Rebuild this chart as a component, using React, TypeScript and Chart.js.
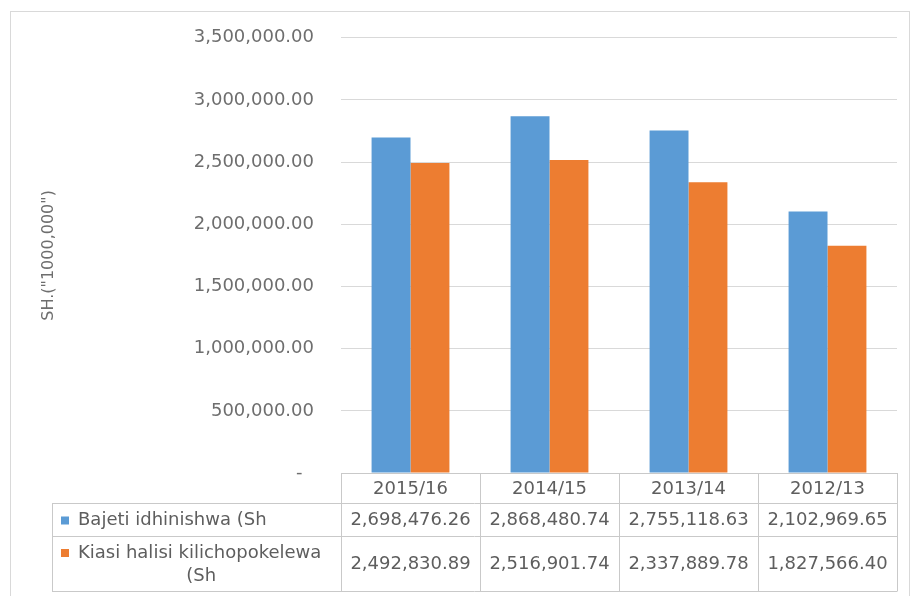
import React, { useEffect, useRef } from 'react';
import { Chart, registerables } from 'chart.js';

Chart.register(...registerables);

const categories = ['2015/16', '2014/15', '2013/14', '2012/13'];
const seriesNames = ['Bajeti idhinishwa (Sh', 'Kiasi halisi kilichopokelewa (Sh'];
const bajetiValues = [2698476.26, 2868480.74, 2755118.63, 2102969.65];
const kiasiValues = [2492830.89, 2516901.74, 2337889.78, 1827566.4];
const seriesColors = ['#5B9BD5', '#ED7D31'];
const yMin = 0;
const yMax = 3500000;
const yStep = 500000;
const yTitle = 'SH.("1000,000")';

const FONT = '"DejaVu Sans", sans-serif';
const TEXT = '#5E5E5E';
const AXIS_TEXT = '#6E6E6E';
const LINE = '#C9C9C9';

const fmt = (v: number) =>
  v.toLocaleString('en-US', { minimumFractionDigits: 2, maximumFractionDigits: 2 });

const tablePlugin = {
  id: 'dataTable',
  afterDraw(chart: any) {
    const { ctx, chartArea } = chart;
    const xs = chart.scales.x;
    const n = categories.length;
    const left = chartArea.left;
    const right = chartArea.right;
    const colW = (right - left) / n;
    const tableLeft = 52;
    const headerTop = chartArea.bottom;
    const headerBottom = headerTop + 30;
    const row1Bottom = headerBottom + 33;
    const row2Bottom = row1Bottom + 55;
    const allSeries = [bajetiValues, kiasiValues];

    ctx.save();
    // outer frame
    ctx.strokeStyle = '#D9D9D9';
    ctx.lineWidth = 1;
    ctx.strokeRect(10.5, 11.5, 899, 600);

    ctx.strokeStyle = LINE;
    ctx.beginPath();
    ctx.moveTo(left, headerTop + 0.5);
    ctx.lineTo(right, headerTop + 0.5);
    ctx.moveTo(tableLeft, headerBottom + 0.5);
    ctx.lineTo(right, headerBottom + 0.5);
    ctx.moveTo(tableLeft, row1Bottom + 0.5);
    ctx.lineTo(right, row1Bottom + 0.5);
    ctx.moveTo(tableLeft, row2Bottom + 0.5);
    ctx.lineTo(right, row2Bottom + 0.5);
    for (let i = 0; i <= n; i++) {
      const x = Math.round(left + i * colW) + 0.5;
      ctx.moveTo(x, headerTop);
      ctx.lineTo(x, row2Bottom + 0.5);
    }
    ctx.moveTo(tableLeft + 0.5, headerBottom);
    ctx.lineTo(tableLeft + 0.5, row2Bottom + 0.5);
    ctx.stroke();

    ctx.fillStyle = TEXT;
    ctx.font = '18px ' + FONT;
    ctx.textAlign = 'center';
    ctx.textBaseline = 'middle';
    categories.forEach((c, i) => {
      const cx = xs.getPixelForValue(i);
      ctx.fillText(c, cx, (headerTop + headerBottom) / 2 + 1);
      ctx.fillText(fmt(allSeries[0][i]), cx, (headerBottom + row1Bottom) / 2 + 1);
      ctx.fillText(fmt(allSeries[1][i]), cx, (row1Bottom + row2Bottom) / 2 + 1);
    });

    const maxW = left - 78 - 6;
    const rows = [
      { top: headerBottom, bottom: row1Bottom },
      { top: row1Bottom, bottom: row2Bottom },
    ];
    seriesNames.forEach((name, si) => {
      const words = name.split(' ');
      const lines: string[] = [];
      let cur = '';
      words.forEach((w) => {
        const t = cur ? cur + ' ' + w : w;
        if (ctx.measureText(t).width > maxW && cur) {
          lines.push(cur);
          cur = w;
        } else cur = t;
      });
      if (cur) lines.push(cur);
      const r = rows[si];
      const lh = 23;
      const y0 = (r.top + r.bottom) / 2 - ((lines.length - 1) * lh) / 2 + 1;
      ctx.fillStyle = seriesColors[si];
      ctx.fillRect(61, y0 - 4, 8, 8);
      ctx.fillStyle = TEXT;
      ctx.textAlign = 'left';
      ctx.fillText(lines[0], 78, y0);
      const w0 = ctx.measureText(lines[0]).width;
      const center = (61 + 78 + w0 + 20) / 2;
      ctx.textAlign = 'center';
      for (let k = 1; k < lines.length; k++) {
        ctx.fillText(lines[k], center, y0 + k * lh);
      }
    });
    ctx.restore();
  },
};

export default function App() {
  const ref = useRef<HTMLCanvasElement | null>(null);
  useEffect(() => {
    if (!ref.current) return;
    const chart = new Chart(ref.current, {
      type: 'bar',
      data: {
        labels: categories,
        datasets: [
          {
            label: seriesNames[0],
            data: bajetiValues,
            backgroundColor: seriesColors[0],
            categoryPercentage: 0.56,
            barPercentage: 1,
          },
          {
            label: seriesNames[1],
            data: kiasiValues,
            backgroundColor: seriesColors[1],
            categoryPercentage: 0.56,
            barPercentage: 1,
          },
        ],
      },
      options: {
        animation: false,
        responsive: false,
        devicePixelRatio: 1,
        layout: { padding: { top: 35, bottom: 123, left: 0, right: 21 } },
        plugins: {
          legend: { display: false },
          tooltip: { enabled: false },
        },
        scales: {
          x: { display: false },
          y: {
            min: yMin,
            max: yMax,
            afterFit(scale: any) {
              scale.width = 341;
            },
            border: { display: false },
            grid: { color: '#D9D9D9', drawTicks: false, lineWidth: 1 },
            ticks: {
              stepSize: yStep,
              padding: 27,
              color: AXIS_TEXT,
              font: { family: FONT, size: 18 },
              callback: (v: any) => (Number(v) === 0 ? '-  ' : fmt(Number(v))),
            },
            title: {
              display: true,
              text: yTitle,
              color: AXIS_TEXT,
              font: { family: FONT, size: 16 },
              padding: { top: 39, bottom: 0 },
            },
          },
        },
      },
      plugins: [tablePlugin],
    });
    return () => chart.destroy();
  }, []);
  return (
    <div style={{ position: 'absolute', left: 0, top: 0, width: 918, height: 596, background: '#fff' }}>
      <canvas ref={ref} width={918} height={596} style={{ width: 918, height: 596, display: 'block' }} />
    </div>
  );
}
